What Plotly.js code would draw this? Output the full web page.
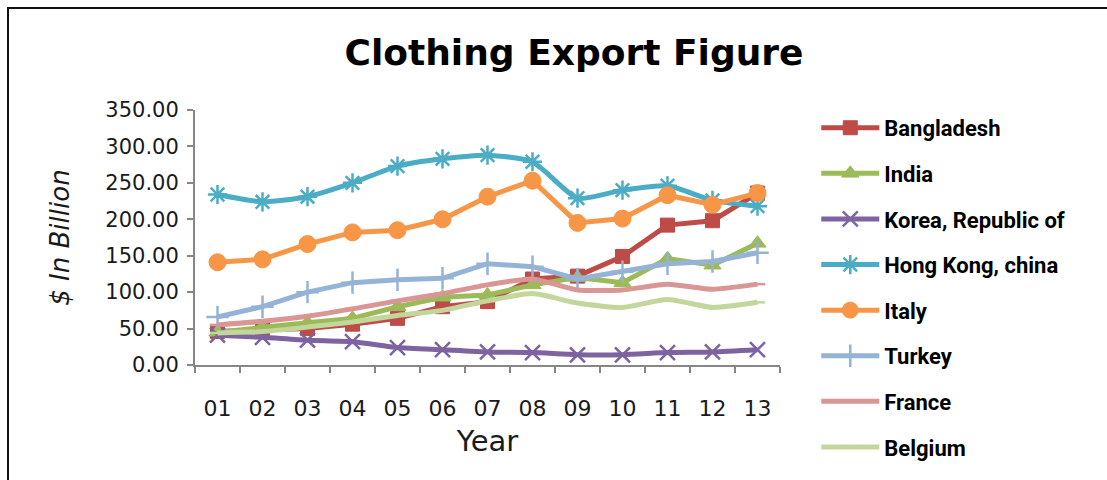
<!DOCTYPE html>
<html>
<head>
<meta charset="utf-8">
<script src="https://cdn.plot.ly/plotly-3.0.1.min.js"></script>
<style>
  html, body { margin: 0; padding: 0; background: #ffffff; }
  #wrap { position: relative; width: 1107px; height: 480px; overflow: hidden; }
  #chart { position: absolute; left: 0; top: 0; width: 1107px; height: 480px; }
  .edgeTop { position: absolute; left: 7px; top: 7px; width: 1100px; height: 2px; background: #111; pointer-events: none; }
  .edgeLeft { position: absolute; left: 7px; top: 7px; width: 2px; height: 473px; background: #111; pointer-events: none; }
</style>
</head>
<body>
<div id="wrap">
  <div id="chart"></div>
  <div class="edgeTop"></div>
  <div class="edgeLeft"></div>
</div>
<script>
// ---- data ----
var years = ['01','02','03','04','05','06','07','08','09','10','11','12','13'];
var seriesNames = ['Bangladesh','India','Korea, Republic of','Hong Kong, china','Italy','Turkey','France','Belgium'];

var bangladesh = [46, 48, 50, 56, 64, 80, 87, 118, 122, 149, 192, 198, 236];
var india      = [45, 52, 58, 64, 80, 93, 96, 110, 120, 113, 146, 137, 167];
var korea      = [41, 38, 34, 32, 24, 21, 18, 17, 14, 14, 17, 18, 21];
var hongKong   = [234, 224, 231, 250, 273, 283, 288, 279, 229, 240, 246, 226, 218];
var italy      = [141, 145, 166, 182, 185, 200, 231, 253, 195, 201, 233, 220, 236];
var turkey     = [66, 80, 100, 113, 117, 119, 139, 135, 118, 128, 139, 142, 154];
var france     = [55, 60, 67, 77, 88, 98, 110, 118, 103, 103, 111, 104, 111];
var belgium    = [44, 46, 52, 59, 68, 75, 88, 98, 85, 79, 90, 79, 86];

var yTickVals = [0, 50, 100, 150, 200, 250, 300, 350];

// ---- styles ----
var styles = [
  {color:'#BE4B48', symbol:'square',     size:14, shape:'linear'},
  {color:'#9BBB59', symbol:'triangle-up',size:15, shape:'linear'},
  {color:'#7E63A1', symbol:'x-thin',     size:15, shape:'spline'},
  {color:'#4BACC6', symbol:'asterisk',   size:16, shape:'spline'},
  {color:'#F79646', symbol:'circle',     size:17, shape:'linear'},
  {color:'#95B3D7', symbol:'cross-thin', size:16, shape:'linear'},
  {color:'#D99694', symbol:'line-ew',    size:11, shape:'spline'},
  {color:'#C3D69B', symbol:'line-ew',    size:11, shape:'spline'}
];
var values = [bangladesh, india, korea, hongKong, italy, turkey, france, belgium];

var traces = values.map(function(v, i){
  var s = styles[i];
  var thin = (s.symbol === 'x-thin' || s.symbol === 'asterisk' || s.symbol === 'cross-thin' || s.symbol === 'line-ew');
  return {
    type: 'scatter',
    mode: 'lines+markers',
    name: seriesNames[i],
    legendgroup: 'g' + i,
    x: years,
    y: v,
    line: {color: s.color, width: 5, shape: s.shape, smoothing: 0.6},
    marker: {
      symbol: s.symbol,
      size: s.size,
      color: s.color,
      line: thin ? {color: s.color, width: 2.5} : {color: s.color, width: 1}
    }
  };
});

var axisColor = '#868686';
var layout = {
  width: 1107,
  height: 480,
  paper_bgcolor: '#ffffff',
  plot_bgcolor: '#ffffff',
  margin: {l: 195, r: 327, t: 110, b: 115},
  showlegend: true,
  title: {
    text: 'Clothing Export Figure',
    font: {family: 'DejaVu Sans', size: 36, color: '#000000', weight: 'bold'},
    x: 574 / 1107, xanchor: 'center', xref: 'container',
    y: 1 - 52 / 480, yanchor: 'middle', yref: 'container'
  },
  xaxis: {
    type: 'category',
    range: [-0.5, 12.5],
    tickson: 'boundaries',
    showline: true, linecolor: axisColor, linewidth: 2,
    ticks: 'outside', ticklen: 6, tickcolor: axisColor, tickwidth: 2,
    showgrid: false, zeroline: false,
    ticklabelstandoff: 23,
    tickfont: {family: 'DejaVu Sans', size: 22, color: '#1a1a1a'},
    title: {text: 'Year', font: {family: 'DejaVu Sans', size: 29, color: '#1a1a1a'}, standoff: 10}
  },
  yaxis: {
    range: [0, 350],
    tickvals: yTickVals,
    tickformat: '.2f',
    showline: true, linecolor: axisColor, linewidth: 2,
    ticks: 'outside', ticklen: 6, tickcolor: axisColor, tickwidth: 2,
    showgrid: false, zeroline: false,
    ticklabelstandoff: 4,
    tickfont: {family: 'DejaVu Sans', size: 21, color: '#1a1a1a'},
    title: {text: '$ In Billion', font: {family: 'DejaVu Sans', size: 26, color: '#1a1a1a', style: 'italic'}, standoff: 28}
  },
  legend: {
    x: 1.062, xanchor: 'left',
    y: 1.012, yanchor: 'top',
    bgcolor: 'rgba(0,0,0,0)',
    borderwidth: 0,
    itemwidth: 58,
    tracegroupgap: 14,
    maxheight: 460,
    font: {family: 'Roboto', size: 22, color: '#000000', weight: 'bold'}
  }
};

Plotly.newPlot('chart', traces, layout, {displayModeBar: false, staticPlot: true});
</script>
</body>
</html>
